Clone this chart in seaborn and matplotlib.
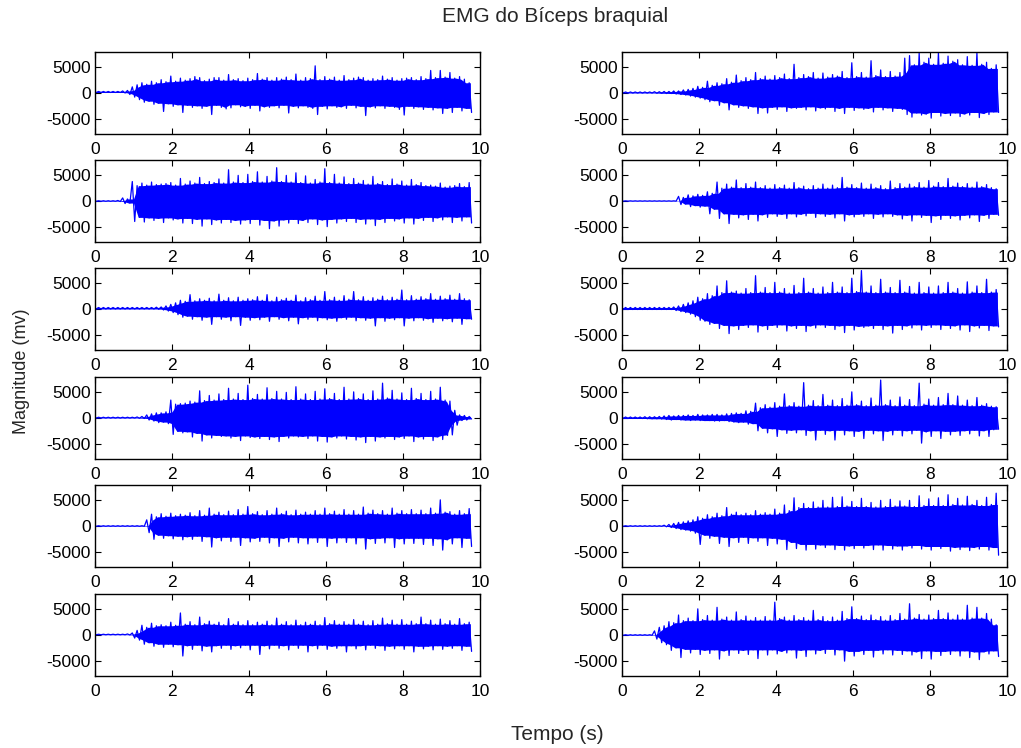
import numpy as np
import pandas as pd
import matplotlib
matplotlib.use("Agg")
import matplotlib.pyplot as plt
import seaborn as sns

# ---------------------------------------------------------------------------
# Surface EMG of the biceps brachii, 12 trials.
# Each trial is summarised on a 0.125 s grid (0 ... 9.75 s) by the positive
# (*_hi) and negative (*_lo) excursion of the signal in each window, in mV.
# ---------------------------------------------------------------------------
time_s = np.arange(79) * 0.125

l1_hi = [300, 300, 300, 300, 300, 300, 400, 500, 1200, 1600, 2000, 1700, 2300, 2000, 2600, 2200,
         3300, 2300, 2900, 2500, 2800, 3200, 3000, 2400, 2700, 3000, 3000, 2500, 3600, 2600, 2800, 2400,
         2900, 2600, 3800, 2700, 3000, 2500, 3000, 2700, 3100, 2600, 3700, 2500, 3000, 2800, 5300, 2600,
         3200, 2700, 3100, 2500, 3400, 2600, 2900, 3100, 3000, 2500, 2800, 2600, 3300, 2700, 3000, 2500,
         2800, 2900, 3000, 2600, 3200, 2800, 4400, 3000, 4400, 3100, 4000, 2900, 3200, 2700, 2000]
l1_lo = [100, 100, 100, 100, 100, 100, 0, -300, -800, -1300, -1800, -1600, -2200, -2000, -3600, -2100,
         -2600, -2300, -3800, -2400, -2800, -2500, -3000, -2600, -4200, -2400, -2800, -3100, -2900, -2300, -2700, -2600,
         -3000, -2400, -3500, -2700, -2800, -2500, -2900, -2400, -3900, -2600, -2900, -2500, -2800, -3000, -4200, -2600,
         -3100, -2500, -2800, -2700, -3000, -2400, -2900, -2600, -4400, -2700, -2900, -2500, -3000, -2600, -2800, -3200,
         -4300, -2600, -3000, -2700, -3200, -2800, -3300, -2900, -4000, -3000, -3800, -2800, -3500, -3000, -3800]

r1_hi = [200, 200, 200, 200, 200, 200, 200, 250, 250, 300, 300, 400, 400, 600, 700, 900,
         1300, 1100, 2300, 1500, 2000, 1800, 2800, 2100, 3500, 2400, 3000, 2600, 4000, 2800, 3300, 2700,
         3400, 3000, 3700, 2800, 5600, 3000, 3600, 3200, 4000, 2900, 3900, 3100, 3600, 3300, 4200, 3000,
         5900, 3200, 4000, 3100, 6300, 3400, 4500, 3200, 4200, 3300, 4000, 6800, 7300, 5500, 7800, 6000,
         6800, 5600, 7900, 5800, 7200, 6200, 6500, 5500, 7100, 5400, 7900, 5600, 6000, 4800, 5500]
r1_lo = [0, 0, 0, 0, 0, 0, 0, -50, -50, -100, -100, -200, -300, -400, -600, -800,
         -1000, -1300, -1700, -1500, -2400, -1900, -3300, -2300, -2800, -2500, -3000, -2700, -4000, -2900, -3900, -2800,
         -3200, -2700, -3600, -2900, -3000, -2800, -3300, -2700, -3500, -2900, -3100, -2800, -3600, -3000, -4000, -2800,
         -3400, -2900, -3200, -3000, -3700, -2800, -3300, -2900, -3600, -3000, -3200, -4200, -4700, -3900, -4300, -4100,
         -4900, -3800, -4500, -4000, -4400, -3900, -4600, -4100, -4300, -3800, -4800, -4000, -4200, -3700, -3800]

l2_hi = [50, 50, 50, 50, 50, 100, 600, 400, 3800, 3000, 3500, 3100, 3700, 3200, 3300, 3400,
         3600, 3100, 4400, 3300, 3900, 3500, 4600, 3400, 3800, 3600, 4300, 3500, 6100, 3700, 5000, 3600,
         5200, 3800, 5700, 3700, 4800, 3900, 6500, 3800, 5000, 3700, 5500, 3600, 4900, 3500, 4200, 3700,
         6300, 3600, 5200, 3500, 4700, 3400, 4400, 3500, 4000, 3300, 4800, 3400, 3800, 3200, 4300, 3300,
         3900, 3100, 4200, 3200, 3600, 3000, 3100, 2900, 3500, 2700, 2900, 3000, 3400, 2800, 3600]
l2_lo = [-50, -50, -50, -50, -50, -100, -500, -400, -4000, -3200, -4100, -3300, -3800, -3400, -4200, -3300,
         -3700, -3500, -4300, -3400, -4400, -3600, -4900, -3500, -4600, -3700, -4300, -3600, -4200, -3800, -4500, -3700,
         -4400, -3600, -4700, -3800, -5400, -3900, -4900, -3700, -4300, -3600, -4400, -3800, -4200, -3500, -4600, -3700,
         -5000, -3600, -4300, -3500, -4000, -3400, -4200, -3600, -4500, -3500, -4800, -3600, -4200, -3400, -3900, -3500,
         -4300, -3300, -4500, -3400, -3800, -3200, -4000, -3300, -3700, -3100, -4200, -3200, -3900, -3100, -4300]

r2_hi = [30, 30, 30, 30, 30, 30, 30, 30, 30, 30, 30, 30, 900, 700, 1200, 1000,
         1300, 1100, 1800, 1500, 3700, 2500, 3300, 2700, 4100, 2600, 3400, 2700, 3700, 2600, 3000, 2500,
         3200, 2600, 3100, 2500, 3600, 2600, 2900, 2400, 3000, 2500, 3300, 2500, 3100, 2600, 4600, 2700,
         3200, 2600, 3500, 2500, 3300, 2600, 3000, 2400, 3900, 2600, 3400, 2700, 3300, 2800, 3600, 2700,
         4000, 2900, 3600, 2800, 4400, 2900, 3500, 2800, 3400, 2700, 3700, 2800, 3200, 2600, 2400]
r2_lo = [-30, -30, -30, -30, -30, -30, -30, -30, -30, -30, -30, -30, -700, -600, -1100, -900,
         -1200, -1000, -2500, -1600, -3400, -2500, -4400, -2600, -3300, -2700, -3600, -2600, -3900, -2700, -3200, -2500,
         -3000, -2600, -3400, -2500, -3100, -2600, -2900, -2400, -3200, -2500, -3000, -2600, -3300, -2500, -3900, -2700,
         -3100, -2600, -3000, -2500, -3400, -2600, -3100, -2500, -3000, -2700, -3500, -2800, -3900, -2700, -3200, -2800,
         -4200, -2900, -3600, -2800, -3400, -2900, -3700, -2800, -3300, -2700, -4000, -2800, -3400, -2600, -2800]

l3_hi = [300, 300, 300, 300, 300, 300, 300, 300, 300, 300, 300, 300, 300, 350, 400, 600,
         900, 1200, 1700, 1500, 2800, 1600, 2000, 1700, 2100, 1600, 2900, 1700, 2200, 1600, 2300, 1700,
         2000, 1800, 2400, 1700, 2800, 1600, 2300, 1800, 2100, 1700, 2700, 1600, 2200, 1800, 2500, 1700,
         3400, 1800, 2300, 1700, 2600, 1900, 3400, 1800, 2400, 1700, 2200, 1900, 2500, 1800, 2300, 1900,
         3700, 1800, 2600, 1900, 2400, 2000, 3000, 1900, 2500, 2000, 2700, 1900, 3000, 2000, 1800]
l3_lo = [0, 0, 0, 0, 0, 0, 0, 0, 0, 0, 0, 0, 0, -50, -200, -400,
         -700, -1100, -1600, -1400, -2000, -1500, -2200, -1600, -3000, -1500, -2000, -1600, -2300, -1500, -3200, -1600,
         -2200, -1700, -2100, -1600, -2400, -1500, -2000, -1700, -2300, -1600, -2900, -1700, -2000, -1600, -2300, -1700,
         -2100, -1800, -2400, -1700, -2000, -1600, -2300, -1700, -2200, -1800, -3300, -1700, -2400, -1800, -2100, -1700,
         -3300, -1800, -2300, -1700, -2200, -1900, -2600, -1800, -2300, -1900, -2500, -1800, -3000, -1900, -2000]

r3_hi = [300, 300, 300, 300, 300, 300, 300, 300, 300, 300, 300, 400, 600, 900, 1200, 1600,
         2300, 2000, 3000, 2600, 4500, 3200, 5500, 3300, 3500, 3100, 4000, 3200, 6500, 3300, 4200, 3200,
         5200, 3300, 4000, 3100, 4600, 3200, 6000, 3300, 4000, 3100, 4300, 3200, 5200, 3300, 4300, 3200,
         6000, 3400, 7500, 3300, 4500, 3200, 5800, 3300, 4200, 3200, 5600, 3300, 4400, 3100, 5200, 3200,
         4300, 3100, 4500, 3200, 5200, 3300, 4000, 3100, 5300, 3300, 4500, 3200, 5800, 3300, 3800]
r3_lo = [-100, -100, -100, -100, -100, -100, -100, -100, -100, -100, -100, -300, -500, -700, -1000, -1500,
         -2200, -2400, -3000, -2800, -3800, -3200, -4800, -3300, -4000, -3200, -3600, -3100, -4500, -3300, -4000, -3200,
         -3600, -3100, -4300, -3300, -3800, -3200, -4400, -3300, -3700, -3100, -3600, -3200, -4000, -3300, -4600, -3200,
         -4100, -3400, -3600, -3300, -3800, -3200, -4000, -3300, -4700, -3200, -4000, -3300, -3700, -3100, -4100, -3200,
         -3600, -3100, -4000, -3200, -3800, -3300, -4100, -3100, -4400, -3300, -3700, -3200, -4200, -3300, -3500]

l4_hi = [150, 150, 150, 150, 150, 150, 150, 150, 150, 200, 300, 600, 800, 1000, 1000, 1200,
         3500, 2700, 2800, 2900, 3300, 3100, 5300, 3400, 4400, 3500, 4700, 3600, 5800, 3700, 4800, 3600,
         6400, 3800, 4600, 3700, 5900, 3800, 5200, 3700, 5000, 3600, 6100, 3700, 4700, 3600, 5200, 3700,
         5700, 3800, 4800, 3600, 6000, 3700, 5100, 3800, 4700, 3600, 5300, 3700, 6800, 3900, 5400, 3700,
         4900, 3600, 5800, 3800, 4800, 3600, 5200, 3700, 6000, 3500, 3300, 1500, 600, 500, 300]
l4_lo = [0, 0, 0, 0, 0, 0, 0, 0, 0, -50, -100, -400, -600, -900, -800, -1100,
         -3200, -2600, -2900, -2700, -3700, -3000, -4500, -3300, -3900, -3400, -3600, -3500, -3900, -3600, -4400, -3500,
         -3800, -3700, -4000, -3600, -4200, -3700, -4600, -3600, -3900, -3500, -3700, -3600, -4000, -3500, -4500, -3600,
         -4700, -3700, -3900, -3500, -4100, -3600, -4300, -3700, -4800, -3600, -4500, -3700, -3900, -3600, -4200, -3700,
         -4000, -3500, -4600, -3700, -4100, -3600, -4400, -3700, -4200, -3400, -3300, -1400, -500, -400, -200]

r4_hi = [200, 200, 200, 200, 200, 250, 250, 250, 300, 400, 500, 400, 500, 500, 600, 500,
         700, 600, 600, 700, 700, 600, 800, 900, 1000, 900, 1400, 1300, 2900, 2000, 2600, 2100,
         3000, 2300, 4700, 2400, 3000, 2300, 6900, 2500, 3400, 2400, 4600, 2500, 3500, 2400, 3800, 2500,
         5100, 2600, 3300, 2400, 3900, 2500, 7400, 2600, 3500, 2400, 4100, 2500, 3600, 2400, 6800, 2700,
         3700, 2500, 4000, 2600, 4800, 2600, 4300, 2500, 3500, 2400, 4000, 2500, 2800, 2300, 2200]
r4_lo = [-100, -100, -100, -100, -100, -150, -150, -150, -200, -300, -400, -300, -400, -400, -500, -400,
         -500, -500, -500, -600, -600, -500, -700, -800, -900, -800, -1200, -1100, -2500, -2000, -2900, -2100,
         -3600, -2300, -3000, -2400, -2900, -2300, -3400, -2500, -4300, -2400, -3200, -2500, -4300, -2400, -3300, -2500,
         -3600, -2600, -4000, -2400, -3100, -2500, -4400, -2600, -3300, -2400, -3500, -2500, -3100, -2400, -4900, -2700,
         -3600, -2500, -4000, -2600, -3300, -2600, -3400, -2500, -3100, -2400, -3500, -2500, -3600, -2300, -2200]

l5_hi = [50, 50, 50, 50, 50, 50, 50, 50, 50, 50, 50, 1200, 2300, 1800, 2400, 1900,
         2500, 2000, 2300, 2100, 2600, 2000, 3000, 2100, 3500, 2300, 2700, 2200, 2900, 2200, 3200, 2300,
         3800, 2400, 2800, 2200, 3000, 2300, 3500, 2400, 2900, 2200, 3100, 2300, 2700, 2300, 3000, 2300,
         3500, 2400, 2900, 2300, 3200, 2300, 3000, 2300, 3700, 2500, 3100, 2400, 3000, 2300, 3500, 2500,
         3000, 2400, 3200, 2400, 3100, 2400, 3500, 2500, 5100, 2700, 2800, 2300, 3000, 2400, 3400]
l5_lo = [-50, -50, -50, -50, -50, -50, -50, -50, -50, -50, -50, -1300, -2600, -1800, -2400, -1900,
         -2500, -2000, -2700, -2100, -2600, -2000, -3000, -2100, -4100, -2300, -2900, -2200, -3000, -2200, -3800, -2300,
         -3100, -2400, -3000, -2200, -3300, -2300, -4000, -2400, -3100, -2200, -3300, -2300, -3500, -2300, -3200, -2300,
         -4000, -2400, -3300, -2300, -3200, -2300, -3500, -2300, -4500, -2500, -3400, -2400, -3300, -2300, -4200, -2500,
         -3500, -2400, -3400, -2400, -3600, -2400, -3800, -2500, -4700, -2700, -3500, -2300, -4200, -2400, -4000]

r5_hi = [50, 50, 50, 50, 50, 50, 50, 50, 50, 150, 300, 500, 700, 800, 1000, 1200,
         1800, 1500, 2200, 1800, 2500, 2000, 3600, 2300, 2700, 2200, 2500, 2200, 3000, 2300, 2600, 2300,
         3300, 2500, 4100, 3000, 5500, 3600, 4400, 3600, 4700, 3700, 5000, 3700, 5600, 3800, 5700, 3900,
         4800, 3800, 5400, 3800, 4600, 3700, 5000, 3800, 5200, 3900, 4900, 3900, 5000, 3800, 5900, 4000,
         5300, 4000, 5500, 4000, 6100, 4200, 5400, 4100, 5800, 4200, 5000, 4000, 5600, 4200, 6400]
r5_lo = [-50, -50, -50, -50, -50, -50, -50, -50, -50, -150, -300, -500, -700, -800, -1000, -1400,
         -3600, -1800, -2400, -2000, -3400, -2200, -4000, -2300, -3200, -2200, -3400, -2300, -3000, -2300, -3800, -2400,
         -3500, -2600, -4600, -3200, -4400, -3600, -4700, -3600, -4500, -3700, -4200, -3700, -4600, -3800, -4700, -3900,
         -4400, -3800, -4300, -3800, -4600, -3700, -4700, -3800, -4500, -3900, -4700, -3900, -4300, -3800, -4500, -4000,
         -4700, -4000, -4400, -4000, -4900, -4200, -4600, -4100, -4800, -4200, -4500, -4000, -4700, -4200, -5700]

l6_hi = [150, 150, 150, 150, 150, 150, 150, 200, 400, 900, 1900, 1500, 2300, 1800, 2000, 1800,
         2500, 1900, 4300, 2100, 2600, 2000, 3500, 2200, 2700, 2100, 2500, 2000, 3200, 2100, 2600, 2000,
         2800, 2000, 2500, 2100, 2700, 2000, 3300, 2100, 2600, 2000, 2900, 2000, 2500, 2100, 2700, 2000,
         3400, 2200, 2800, 2100, 2600, 2100, 3000, 2100, 2700, 2000, 2800, 2100, 3300, 2200, 2900, 2100,
         3000, 2100, 2700, 2200, 3500, 2200, 2900, 2100, 3100, 2200, 2800, 2100, 3200, 2200, 2500]
l6_lo = [50, 50, 50, 50, 50, 50, 50, 0, -600, -1000, -1800, -1500, -2200, -1800, -2400, -1800,
         -2300, -1900, -4100, -2100, -2800, -2000, -3100, -2200, -3300, -2100, -2600, -2000, -2800, -2100, -2500, -2000,
         -2900, -2000, -3800, -2100, -2700, -2000, -2600, -2100, -2900, -2000, -2600, -2000, -3300, -2100, -2700, -2000,
         -2800, -2200, -2600, -2100, -3300, -2100, -2700, -2100, -2900, -2000, -2600, -2100, -3000, -2200, -2700, -2100,
         -2800, -2100, -3300, -2200, -2700, -2200, -2900, -2100, -2800, -2200, -2600, -2100, -3000, -2200, -3200]

r6_hi = [50, 50, 50, 50, 50, 50, 50, 800, 1500, 1800, 2600, 2400, 3900, 2800, 3300, 2800,
         5100, 3000, 3800, 2900, 5400, 3100, 3500, 2900, 4500, 3000, 3700, 2900, 3400, 2900, 3600, 2900,
         6400, 3200, 3500, 2900, 3800, 3000, 3400, 2900, 4800, 3000, 3600, 2800, 3500, 2900, 4600, 3200,
         5500, 3200, 3700, 3000, 3900, 3000, 3600, 2900, 3800, 3000, 4200, 3100, 6100, 3300, 4000, 3100,
         3900, 3200, 4800, 3200, 4300, 3100, 3900, 3100, 5800, 3300, 5400, 3300, 4200, 3100, 2000]
r6_lo = [-50, -50, -50, -50, -50, -50, -50, -800, -1500, -1900, -3000, -2500, -4400, -2800, -3500, -2800,
         -3800, -3000, -3600, -2900, -4700, -3100, -4000, -2900, -3600, -3000, -3800, -2900, -4600, -2900, -3900, -2900,
         -3700, -3200, -3500, -2900, -4500, -3000, -4200, -2900, -3700, -3000, -3600, -2800, -3900, -2900, -5100, -3200,
         -4100, -3200, -3800, -3000, -4300, -3000, -3700, -2900, -3900, -3000, -3800, -3100, -3900, -3300, -4600, -3100,
         -4700, -3200, -4000, -3200, -3800, -3100, -4100, -3100, -4400, -3300, -4800, -3300, -3700, -3100, -4200]

# panel order: row by row, left column then right column
panels = [
    (l1_hi, l1_lo), (r1_hi, r1_lo),
    (l2_hi, l2_lo), (r2_hi, r2_lo),
    (l3_hi, l3_lo), (r3_hi, r3_lo),
    (l4_hi, l4_lo), (r4_hi, r4_lo),
    (l5_hi, l5_lo), (r5_hi, r5_lo),
    (l6_hi, l6_lo), (r6_hi, r6_lo),
]
for hi, lo in panels:
    assert len(hi) == len(lo) == len(time_s), (len(hi), len(lo))

x_ticks = [0, 2, 4, 6, 8, 10]
y_ticks = [-5000, 0, 5000]
title_text = "EMG do Bíceps braquial"
y_label_text = "Magnitude (mv)"
x_label_text = "Tempo (s)"

# ---------------------------------------------------------------------------
sns.set_theme(style="ticks")
plt.rcParams["font.family"] = ["Liberation Sans", "DejaVu Sans"]
plt.rcParams.update({
    "axes.unicode_minus": False,
    "xtick.direction": "in",
    "ytick.direction": "in",
    "xtick.top": True,
    "ytick.right": True,
    "xtick.major.size": 4,
    "ytick.major.size": 4,
    "xtick.major.width": 0.8,
    "ytick.major.width": 0.8,
    "xtick.major.pad": 6,
    "ytick.major.pad": 3,
    "axes.linewidth": 1.0,
    "axes.edgecolor": "black",
    "xtick.color": "black",
    "ytick.color": "black",
})

W, H = 1021, 748
fig = plt.figure(figsize=(W / 100, H / 100), dpi=100)
fig.patch.set_facecolor("white")

col_left = [95, 622]
col_width = 385
row_top = [52, 160, 268, 377, 485, 594]
row_height = 82

blue = "#0000ff"
shift = 0.125 / 4
for k, (hi, lo) in enumerate(panels):
    r, c = divmod(k, 2)
    ax = fig.add_axes([col_left[c] / W, 1 - (row_top[r] + row_height) / H,
                       col_width / W, row_height / H])
    hi_s = pd.Series(hi, dtype=float)
    lo_s = pd.Series(lo, dtype=float)
    # dense body of the burst: the smaller excursion among neighbouring windows
    body_hi = hi_s.rolling(3, center=True, min_periods=1).min()
    body_lo = lo_s.rolling(3, center=True, min_periods=1).max()
    ax.fill_between(time_s, body_lo, body_hi, color=blue, linewidth=0)
    # trace alternating between the positive and negative excursion of each window
    trace = pd.DataFrame({
        "t": np.column_stack([time_s - shift, time_s + shift]).ravel(),
        "mv": np.column_stack([hi_s, lo_s]).ravel(),
    })
    trace = trace[trace["t"] >= 0]
    sns.lineplot(data=trace, x="t", y="mv", ax=ax, color=blue, linewidth=0.9,
                 sort=False, estimator=None)
    ax.set_xlim(0, 10)
    ax.set_ylim(-8000, 8000)
    ax.set_xticks(x_ticks)
    ax.set_yticks(y_ticks)
    ax.set_xticklabels([str(v) for v in x_ticks], fontsize=12.5)
    ax.set_yticklabels([str(v) for v in y_ticks], fontsize=12.5)
    ax.set_xlabel("")
    ax.set_ylabel("")
    for s in ax.spines.values():
        s.set_visible(True)
        s.set_color("black")

fig.text(555 / W, 1 - 17 / H, title_text, ha="center", va="center", fontsize=15)
fig.text(22 / W, 1 - 371 / H, y_label_text, ha="center", va="center",
         rotation=90, fontsize=13)
fig.text(557 / W, 1 - 734 / H, x_label_text, ha="center", va="center", fontsize=15)

fig.savefig("out.png", dpi=100, facecolor="white")
